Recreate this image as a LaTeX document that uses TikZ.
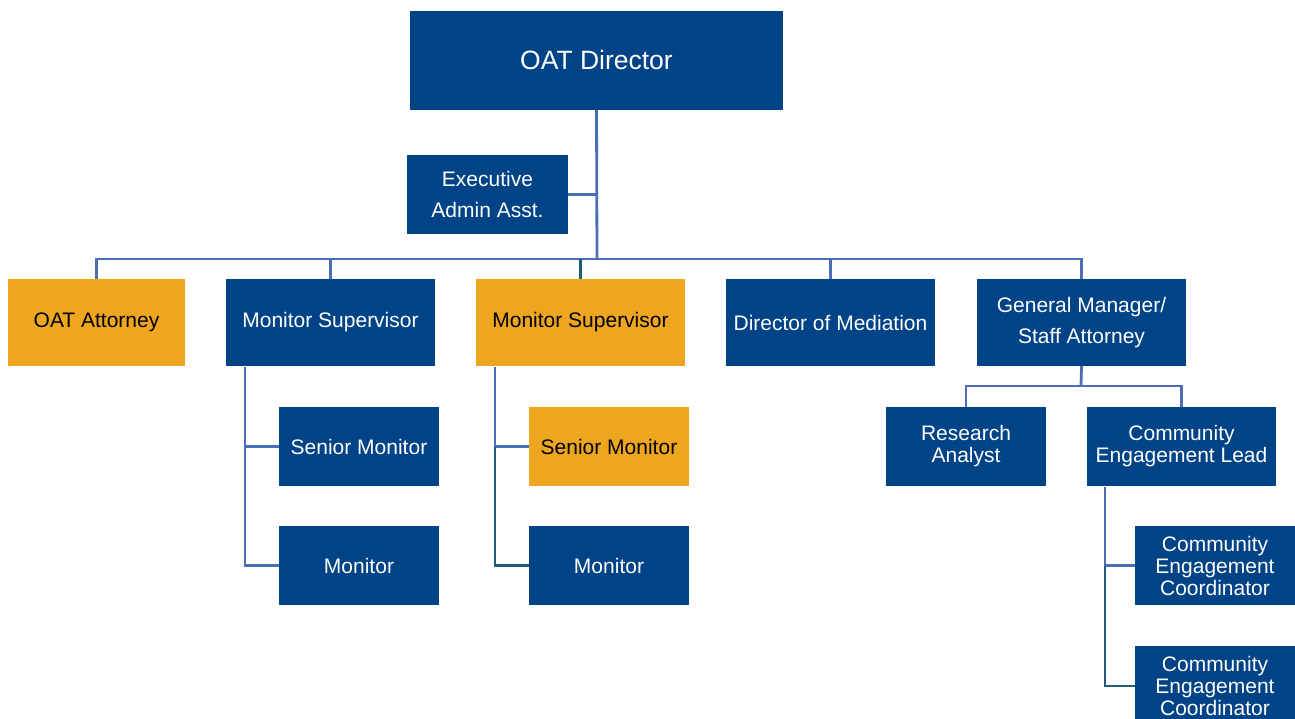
\documentclass[tikz,border=0pt]{standalone}
\usepackage{fontspec}
\setmainfont{Liberation Sans}
\definecolor{boxblue}{HTML}{004387}
\definecolor{boxorange}{HTML}{EEA520}
\definecolor{lnblue}{HTML}{4A6FB6}
\definecolor{lnteal}{HTML}{1E5C7A}
\begin{document}
\begin{tikzpicture}[x=1pt,y=-1pt,
  bx/.style={fill=boxblue,text=white,inner sep=0pt,align=center,font=\fontsize{21}{22}\selectfont},
  ox/.style={bx,fill=boxorange,text=black},
  lnb/.style={draw=lnblue,line width=2.8pt},
  lnt/.style={draw=lnteal,line width=2.8pt}]
\useasboundingbox (0,0) rectangle (1295,719);
\fill[white] (0,0) rectangle (1295,719);
% top
\node[bx,minimum width=373,minimum height=99,font=\fontsize{26.5}{28}\selectfont] (dir) at (596.5,60.5) {OAT Director};
\node[bx,minimum width=161,minimum height=79,font=\fontsize{21}{31}\selectfont] (exec) at (487.5,194.5) {Executive\\Admin Asst.};
% row
\node[ox,minimum width=177,minimum height=87] (att) at (96.5,322.5) {OAT Attorney};
\node[bx,minimum width=209,minimum height=87] (ms1) at (330.5,322.5) {Monitor Supervisor};
\node[ox,minimum width=209,minimum height=87] (ms2) at (580.5,322.5) {Monitor Supervisor};
\node[bx,minimum width=209,minimum height=87] (dm) at (830.5,322.5) {Director of Mediation};
\node[bx,minimum width=209,minimum height=87,font=\fontsize{21}{31}\selectfont] (gm) at (1081.5,322.5) {General Manager/\\Staff Attorney};
% under ms1
\node[bx,minimum width=160,minimum height=79] (sm1) at (359,446.5) {Senior Monitor};
\node[bx,minimum width=160,minimum height=79] (mon1) at (359,565.5) {Monitor};
% under ms2
\node[ox,minimum width=160,minimum height=79] (sm2) at (609,446.5) {Senior Monitor};
\node[bx,minimum width=160,minimum height=79] (mon2) at (609,565.5) {Monitor};
% under gm
\node[bx,minimum width=160,minimum height=79] (ra) at (966,446.5) {Research\\Analyst};
\node[bx,minimum width=189,minimum height=79] (cel) at (1181.5,446.5) {Community\\Engagement Lead};
\node[bx,minimum width=160,minimum height=79] (cec1) at (1215,565.5) {Community\\Engagement\\Coordinator};
\node[bx,minimum width=160,minimum height=80] (cec2) at (1215,686) {Community\\Engagement\\Coordinator};
% connectors
\coordinate (hub) at (597,259);
\draw[lnb] (dir.south) -- (hub);
\draw[lnb] (exec.east) -- (exec.east -| hub);
\draw[lnb] (att.north) |- (hub);
\draw[lnb] (hub) -| (gm.north);
\draw[lnb] (ms1.north) -- (ms1.north |- hub);
\draw[lnt] (ms2.north) -- (ms2.north |- hub);
\draw[lnb] (dm.north) -- (dm.north |- hub);
% ms1 children
\coordinate (v1) at (245,367);
\draw[lnb] (v1) |- (sm1.west);
\draw[lnb] (v1 |- sm1.west) |- (mon1.west);
% ms2 children
\coordinate (v2) at (495,367);
\draw[lnb] (v2) |- (sm2.west);
\draw[lnt] (v2 |- sm2.west) |- (mon2.west);
% gm children
\coordinate (gmhub) at (1081,386);
\draw[lnb] (gm.south) -- (gmhub);
\draw[lnb] (ra.north) |- (gmhub) -| (cel.north);
% cel children
\coordinate (v3) at (1105,487);
\draw[lnb] (v3) |- (cec1.west);
\draw[lnt] (v3 |- cec1.west) |- (cec2.west);
\end{tikzpicture}
\end{document}
